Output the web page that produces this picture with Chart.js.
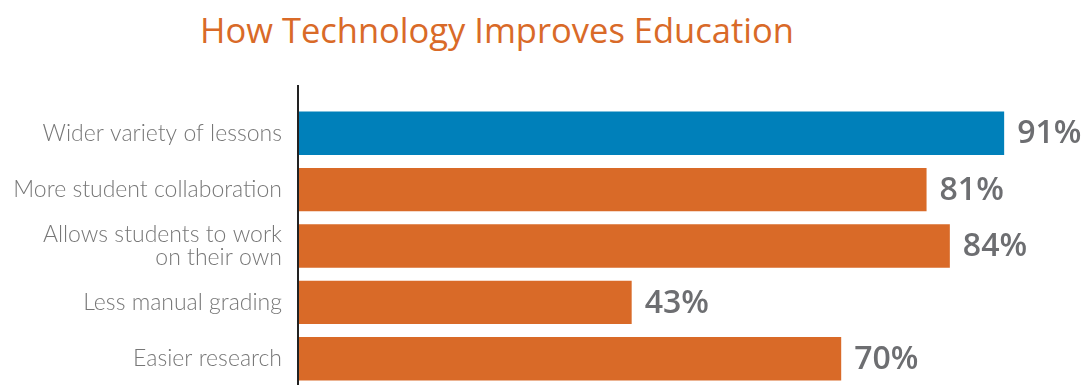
<!DOCTYPE html>
<html>
<head>
<meta charset="utf-8">
<script src="https://cdn.jsdelivr.net/npm/chart.js@4"></script>
<style>
  html, body { margin: 0; padding: 0; background: #fff; }
  #wrap { position: relative; width: 1092px; height: 391px; }
  #title {
    position: absolute; left: 200px; top: 6px;
    font-family: "Open Sans", sans-serif; font-size: 34.5px; font-weight: 500;
    color: #D96A28; white-space: nowrap;
  }
  canvas { position: absolute; left: 0; top: 0; }
</style>
</head>
<body>
<div id="wrap">
  <div id="title">How Technology Improves Education</div>
  <canvas id="myChart" width="1092" height="391"></canvas>
</div>
<script>
var categories = [
    "Wider variety of lessons",
    "More student collaboration",
    ["Allows students to work", "on their own"],
    "Less manual grading",
    "Easier research"
];
var percents = [91, 81, 84, 43, 70];
var barColors = ["#0080BA", "#D96A28", "#D96A28", "#D96A28", "#D96A28"];

// axis line runs a bit above the first bar
var axisLine = {
    id: 'axisLine',
    afterDraw: function(chart){
        var ctx = chart.ctx, a = chart.chartArea;
        ctx.save();
        ctx.strokeStyle = '#222';
        ctx.lineWidth = 2;
        ctx.beginPath();
        ctx.moveTo(a.left, a.top - 20);
        ctx.lineTo(a.left, a.bottom - 2);
        ctx.stroke();
        ctx.restore();
    }
};

// percent labels at the end of each bar
var valueLabels = {
    id: 'valueLabels',
    afterDatasetsDraw: function(chart){
        var ctx = chart.ctx;
        var meta = chart.getDatasetMeta(0);
        ctx.save();
        ctx.fillStyle = '#6D6E71';
        ctx.font = '600 32px "Open Sans", sans-serif';
        ctx.textAlign = 'left';
        ctx.textBaseline = 'middle';
        meta.data.forEach(function(bar, i){
            ctx.fillText(percents[i] + '%', bar.x + 13, bar.y + 1);
        });
        ctx.restore();
    }
};

var ctx = document.getElementById("myChart");
var myChart = new Chart(ctx, {
    type: 'bar',
    data: {
        labels: categories,
        datasets: [{
            data: percents,
            backgroundColor: barColors,
            borderWidth: 0,
            barPercentage: 0.77,
            categoryPercentage: 1
        }]
    },
    options: {
        indexAxis: 'y',
        responsive: false,
        animation: false,
        layout: { padding: { top: 105, right: 18, bottom: 4, left: 0 } },
        plugins: {
            legend: { display: false },
            tooltip: { enabled: false }
        },
        scales: {
            x: {
                min: 0, max: 100,
                display: false,
                grid: { display: false }
            },
            y: {
                grid: { display: false, drawTicks: false },
                border: { display: false },
                afterFit: function(scale){
                    scale.width = 298;
                    scale.paddingTop = 0;
                    scale.paddingBottom = 0;
                },
                ticks: {
                    padding: 16,
                    color: '#777',
                    font: { family: 'Lato', size: 23, weight: 300, lineHeight: 1.0 }
                }
            }
        }
    },
    plugins: [axisLine, valueLabels]
});
</script>
</body>
</html>
